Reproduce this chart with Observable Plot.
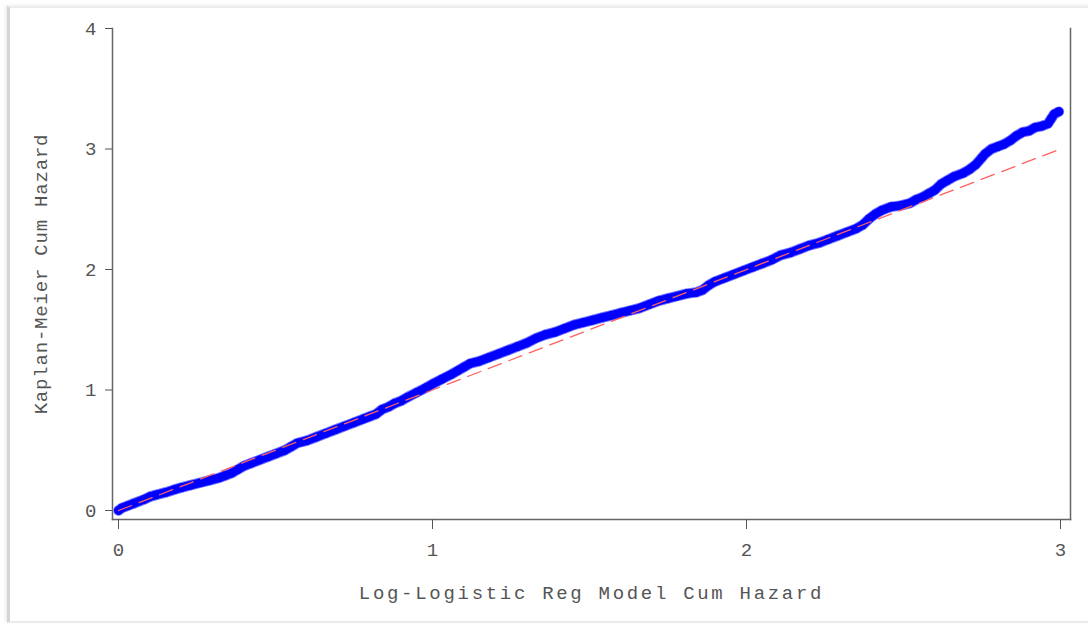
<!DOCTYPE html>
<html>
<head>
<meta charset="utf-8">
<script src="https://cdn.jsdelivr.net/npm/d3@7"></script>
<script src="https://cdn.jsdelivr.net/npm/@observablehq/plot@0.6"></script>
<style>
  html, body { margin: 0; padding: 0; background: #fff; }
  #wrap { position: relative; width: 1088px; height: 624px; overflow: hidden; }
  #frame { position: absolute; left: 7px; top: 6px; width: 1090px; height: 613px;
           border-left: 3px solid #d4d4d4; border-top: 2px solid #ececec; border-bottom: 2px solid #ececec;
           box-shadow: -2px -1px 3px #eee; pointer-events: none; }
  #chart { position: absolute; left: 0; top: 0; }
</style>
</head>
<body>
<div id="wrap"><div id="frame"></div><div id="chart"></div></div>
<script>
// Kaplan-Meier cumulative hazard vs log-logistic model cumulative hazard
const modelHaz = [0.00,0.01,0.03,0.05,0.08,0.10,0.12,0.15,0.18,0.20,0.23,0.26,0.29,0.32,0.34,0.36,0.38,0.40,0.42,0.45,0.48,0.50,0.53,0.55,0.57,0.60,0.63,0.66,0.69,0.72,0.75,0.78,0.80,0.82,0.84,0.86,0.88,0.90,0.92,0.95,0.98,1.00,1.03,1.06,1.08,1.10,1.12,1.15,1.18,1.21,1.24,1.27,1.30,1.33,1.36,1.39,1.42,1.45,1.48,1.51,1.54,1.57,1.60,1.63,1.66,1.69,1.72,1.75,1.78,1.81,1.84,1.86,1.88,1.90,1.93,1.96,1.99,2.02,2.05,2.08,2.11,2.14,2.17,2.20,2.23,2.26,2.29,2.32,2.35,2.37,2.39,2.41,2.43,2.46,2.49,2.52,2.54,2.56,2.58,2.60,2.62,2.64,2.66,2.69,2.71,2.73,2.75,2.76,2.78,2.80,2.82,2.84,2.86,2.88,2.90,2.92,2.94,2.96,2.97,2.98,2.995];
const kmHaz    = [0.00,0.02,0.04,0.06,0.09,0.115,0.13,0.15,0.175,0.19,0.21,0.23,0.25,0.27,0.29,0.31,0.34,0.37,0.39,0.42,0.45,0.47,0.50,0.53,0.56,0.58,0.61,0.64,0.67,0.70,0.73,0.76,0.78,0.80,0.84,0.86,0.89,0.91,0.94,0.98,1.02,1.05,1.09,1.13,1.16,1.19,1.22,1.24,1.27,1.30,1.33,1.36,1.39,1.43,1.46,1.48,1.51,1.54,1.56,1.58,1.60,1.62,1.64,1.66,1.68,1.71,1.74,1.76,1.78,1.80,1.81,1.83,1.87,1.90,1.93,1.96,1.99,2.02,2.05,2.08,2.12,2.14,2.17,2.20,2.22,2.25,2.28,2.31,2.34,2.37,2.42,2.46,2.49,2.52,2.53,2.55,2.58,2.60,2.63,2.66,2.71,2.74,2.77,2.80,2.83,2.87,2.93,2.96,3.00,3.02,3.04,3.07,3.11,3.14,3.15,3.18,3.19,3.21,3.25,3.29,3.31];
const refLine = [0, 3];
const xTicks = [0, 1, 2, 3];
const yTicks = [0, 1, 2, 3, 4];
const xTitle = "Log-Logistic Reg Model Cum Hazard";
const yTitle = "Kaplan-Meier Cum Hazard";

const pts = modelHaz.map((x, i) => ({x, y: kmHaz[i]}));
const ref = refLine.map(v => ({x: v, y: v}));

const textColor = "#555";
const chart = Plot.plot({
  width: 1088,
  height: 624,
  marginLeft: 112,
  marginRight: 18,
  marginTop: 28,
  marginBottom: 105,
  insetLeft: 6,
  insetRight: 10,
  insetBottom: 9,
  style: {fontFamily: "'Liberation Mono', monospace", fontSize: "19px", color: textColor, background: "transparent"},
  x: {domain: [0, 3]},
  y: {domain: [0, 4]},
  marks: [
    Plot.frame({anchor: "left", stroke: "#666", strokeWidth: 1.5}),
    Plot.frame({anchor: "right", stroke: "#666", strokeWidth: 1.5}),
    Plot.frame({anchor: "bottom", stroke: "#666", strokeWidth: 1.5}),
    Plot.axisX({ticks: xTicks, tickFormat: d3.format("d"), tickSize: 10, tickPadding: 13, stroke: "#555", fill: textColor,
                label: xTitle, labelAnchor: "center", labelArrow: "none", labelOffset: 79,
                fontSize: 19}),
    Plot.axisY({ticks: yTicks, tickFormat: d3.format("d"), tickSize: 7, tickPadding: 9, stroke: "#555", fill: textColor,
                label: yTitle, labelAnchor: "center", labelArrow: "none", labelOffset: 79,
                fontSize: 19}),
    Plot.line(pts, {x: "x", y: "y", stroke: "#7070ff", strokeWidth: 10.5, strokeLinecap: "round", strokeLinejoin: "round"}),
    Plot.line(pts, {x: "x", y: "y", stroke: "#0000ff", strokeWidth: 8.5, strokeLinecap: "round", strokeLinejoin: "round"}),
    Plot.dot(pts, {x: "x", y: "y", r: 4.3, fill: "#0000ff", stroke: "none"}),
    Plot.line(ref, {x: "x", y: "y", stroke: "#ff6060", strokeWidth: 1.3, strokeDasharray: "14,8"})
  ]
});
d3.select(chart).selectAll("text")
  .filter(function() { return this.textContent === xTitle; })
  .attr("letter-spacing", "2.7px");
d3.select(chart).selectAll("text")
  .filter(function() { return this.textContent === yTitle; })
  .attr("letter-spacing", "0.8px");
document.getElementById("chart").appendChild(chart);
</script>
</body>
</html>
